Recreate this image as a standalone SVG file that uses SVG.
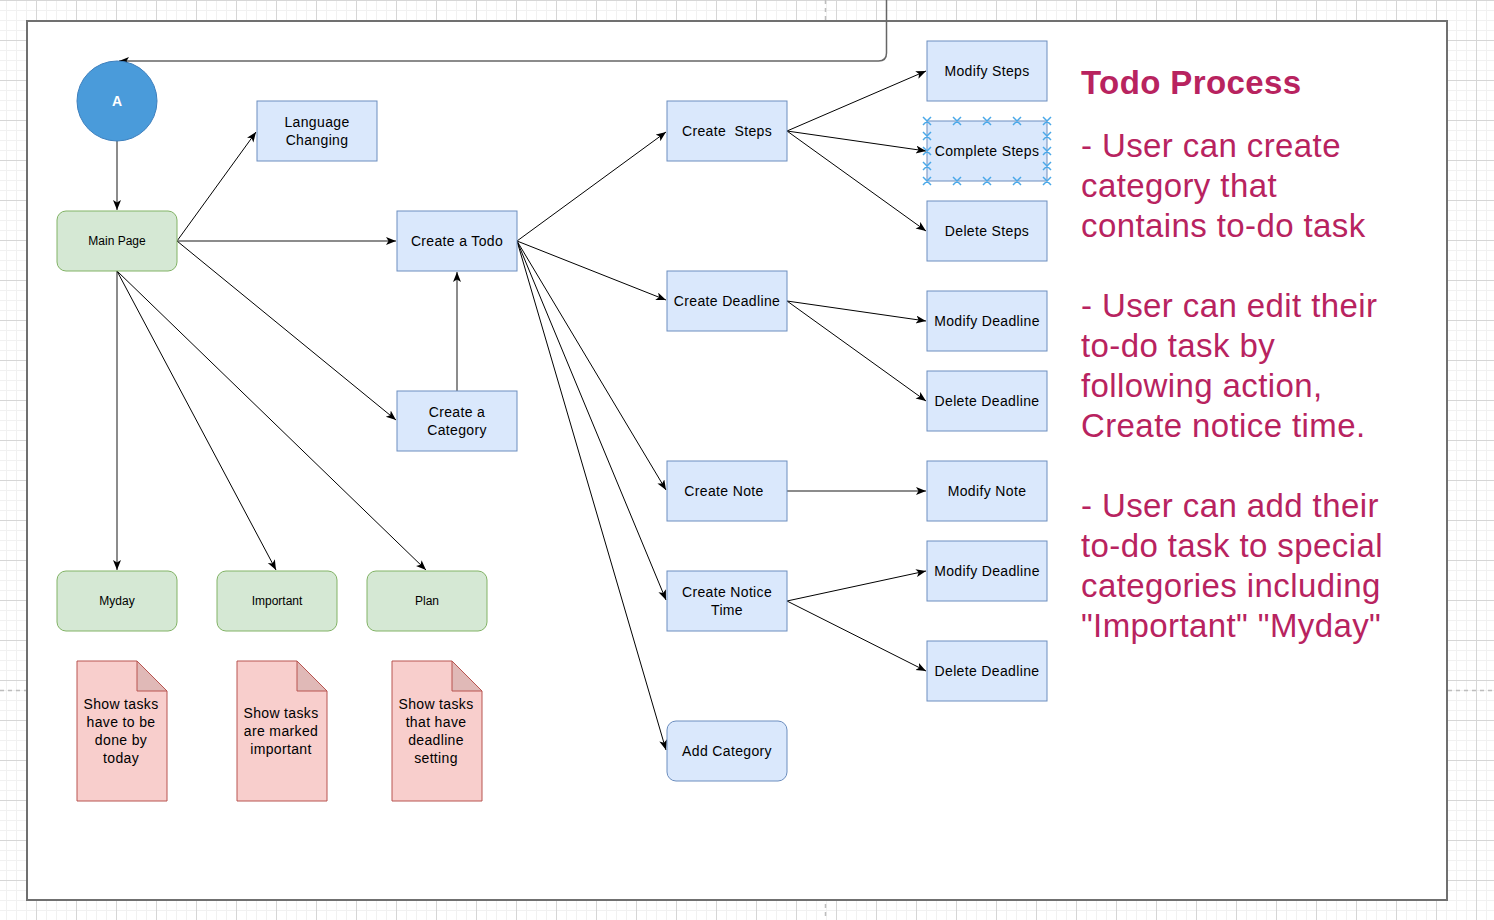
<svg xmlns="http://www.w3.org/2000/svg" width="1494" height="920" viewBox="0 0 1494 920">
<style>
text{font-family:"Liberation Sans",Arial,Helvetica,sans-serif;fill:#000;}
.blue{fill:#dae8fc;stroke:#6c8ebf;stroke-width:1;}
.green{fill:#d5e8d4;stroke:#82b366;stroke-width:1;}
.doc{fill:#f8cecc;stroke:#b85450;stroke-width:1;}
.fold{fill:#e0b9b7;stroke:#b85450;stroke-width:1;}
.t14{font-size:14px;text-anchor:middle;letter-spacing:0.35px;}
.t12{font-size:12px;text-anchor:middle;}
.e{fill:none;stroke:#000;stroke-width:1;marker-end:url(#arr);}
.eg{fill:none;stroke:#666;stroke-width:1.5;marker-end:url(#arr);}
.sel{stroke:#4aa8e8;stroke-width:1.5;fill:none;}
.note{font-size:33px;fill:#b8235f;letter-spacing:0.4px;}
</style>
<defs>
<pattern id="grid" patternUnits="userSpaceOnUse" x="36" y="0" width="40" height="40">
<path d="M10.5 0V40M20.5 0V40M30.5 0V40M0 10.5H40M0 20.5H40M0 30.5H40" stroke="#f1f1f1" stroke-width="1"/>
<path d="M0.5 0V40M0 0.5H40" stroke="#d6d6d6" stroke-width="1"/>
</pattern>
<marker id="arr" markerUnits="userSpaceOnUse" markerWidth="12" markerHeight="10" refX="10" refY="4" orient="auto">
<path d="M0,0 L10,4 L0,8 L2.5,4 Z" fill="#000"/>
</marker>
</defs>
<rect width="1494" height="920" fill="#ffffff"/>
<rect width="1494" height="920" fill="url(#grid)"/>
<g stroke="#bdbdbd" stroke-width="1.5" stroke-dasharray="4,4">
<path d="M825.5 0V920"/>
<path d="M0 690.5H1494"/>
</g>
<rect x="27" y="21" width="1420" height="879" fill="#ffffff" stroke="#707070" stroke-width="2"/>

<g id="connectors">
<path class="eg" d="M886.5 0V53Q886.5 61 878.5 61H119"/>
<path class="eg" d="M117 141V210"/>
<path class="e" d="M177 241L256 132"/>
<path class="eg" d="M177 241H396"/>
<path class="e" d="M177 241L396 420"/>
<path class="eg" d="M117 271V570"/>
<path class="e" d="M117 271L276 570"/>
<path class="e" d="M117 271L426 570"/>
<path class="eg" d="M457 391V272"/>
<path class="e" d="M517 241L666 132"/>
<path class="e" d="M517 241L666 300"/>
<path class="e" d="M517 241L666 490"/>
<path class="e" d="M517 241L666 600"/>
<path class="e" d="M517 241L666 750"/>
<path class="e" d="M787 131L926 71"/>
<path class="e" d="M787 131L926 151"/>
<path class="e" d="M787 131L926 231"/>
<path class="e" d="M787 301L926 321"/>
<path class="e" d="M787 301L926 401"/>
<path class="eg" d="M787 491H926"/>
<path class="e" d="M787 601L926 571"/>
<path class="e" d="M787 601L926 671"/>
</g>

<g id="node-a"><circle cx="117" cy="101" r="40" fill="#4a9bda" stroke="#3d7fbd" stroke-width="1"/><text x="117" y="106" class="t12" style="fill:#fff;font-weight:bold;font-size:14px">A</text></g>
<g id="node-language"><rect class="blue" x="257" y="101" width="120" height="60"/><text class="t14" x="317" y="127">Language</text><text class="t14" x="317" y="145">Changing</text></g>
<g id="node-main"><rect class="green" x="57" y="211" width="120" height="60" rx="9"/><text class="t12" x="117" y="245">Main Page</text></g>
<g id="node-todo"><rect class="blue" x="397" y="211" width="120" height="60"/><text class="t14" x="457" y="246">Create a Todo</text></g>
<g id="node-category"><rect class="blue" x="397" y="391" width="120" height="60"/><text class="t14" x="457" y="417">Create a</text><text class="t14" x="457" y="435">Category</text></g>
<g id="node-myday"><rect class="green" x="57" y="571" width="120" height="60" rx="9"/><text class="t12" x="117" y="605">Myday</text></g>
<g id="node-important"><rect class="green" x="217" y="571" width="120" height="60" rx="9"/><text class="t12" x="277" y="605">Important</text></g>
<g id="node-plan"><rect class="green" x="367" y="571" width="120" height="60" rx="9"/><text class="t12" x="427" y="605">Plan</text></g>

<g id="doc-myday"><path class="doc" d="M77 661H137L167 691V801H77Z"/><path class="fold" d="M137 661V691H167Z"/><text class="t14" x="121" y="709">Show tasks</text><text class="t14" x="121" y="727">have to be</text><text class="t14" x="121" y="745">done by</text><text class="t14" x="121" y="763">today</text></g>
<g id="doc-important"><path class="doc" d="M237 661H297L327 691V801H237Z"/><path class="fold" d="M297 661V691H327Z"/><text class="t14" x="281" y="718">Show tasks</text><text class="t14" x="281" y="736">are marked</text><text class="t14" x="281" y="754">important</text></g>
<g id="doc-plan"><path class="doc" d="M392 661H452L482 691V801H392Z"/><path class="fold" d="M452 661V691H482Z"/><text class="t14" x="436" y="709">Show tasks</text><text class="t14" x="436" y="727">that have</text><text class="t14" x="436" y="745">deadline</text><text class="t14" x="436" y="763">setting</text></g>

<g id="node-create-steps"><rect class="blue" x="667" y="101" width="120" height="60"/><text class="t14" x="727" y="136" style="white-space:pre" xml:space="preserve">Create  Steps</text></g>
<g id="node-modify-steps"><rect class="blue" x="927" y="41" width="120" height="60"/><text class="t14" x="987" y="76">Modify Steps</text></g>
<g id="node-complete-steps"><rect class="blue" x="927" y="121" width="120" height="60"/><text class="t14" x="987" y="156">Complete Steps</text>
<path class="sel" d="M923 117l8 8m0-8l-8 8M953 117l8 8m0-8l-8 8M983 117l8 8m0-8l-8 8M1013 117l8 8m0-8l-8 8M1043 117l8 8m0-8l-8 8M923 177l8 8m0-8l-8 8M953 177l8 8m0-8l-8 8M983 177l8 8m0-8l-8 8M1013 177l8 8m0-8l-8 8M1043 177l8 8m0-8l-8 8M923 132l8 8m0-8l-8 8M923 147l8 8m0-8l-8 8M923 162l8 8m0-8l-8 8M1043 132l8 8m0-8l-8 8M1043 147l8 8m0-8l-8 8M1043 162l8 8m0-8l-8 8"/></g>
<g id="node-delete-steps"><rect class="blue" x="927" y="201" width="120" height="60"/><text class="t14" x="987" y="236">Delete Steps</text></g>
<g id="node-create-deadline"><rect class="blue" x="667" y="271" width="120" height="60"/><text class="t14" x="727" y="306">Create Deadline</text></g>
<g id="node-modify-deadline-1"><rect class="blue" x="927" y="291" width="120" height="60"/><text class="t14" x="987" y="326">Modify Deadline</text></g>
<g id="node-delete-deadline-1"><rect class="blue" x="927" y="371" width="120" height="60"/><text class="t14" x="987" y="406">Delete Deadline</text></g>
<g id="node-create-note"><rect class="blue" x="667" y="461" width="120" height="60"/><text class="t14" x="724" y="496">Create Note</text></g>
<g id="node-modify-note"><rect class="blue" x="927" y="461" width="120" height="60"/><text class="t14" x="987" y="496">Modify Note</text></g>
<g id="node-notice"><rect class="blue" x="667" y="571" width="120" height="60"/><text class="t14" x="727" y="597">Create Notice</text><text class="t14" x="727" y="615">Time</text></g>
<g id="node-modify-deadline-2"><rect class="blue" x="927" y="541" width="120" height="60"/><text class="t14" x="987" y="576">Modify Deadline</text></g>
<g id="node-delete-deadline-2"><rect class="blue" x="927" y="641" width="120" height="60"/><text class="t14" x="987" y="676">Delete Deadline</text></g>
<g id="node-add-category"><rect class="blue" x="667" y="721" width="120" height="60" rx="9"/><text class="t14" x="727" y="756">Add Category</text></g>

<g id="notes">
<text x="1081" y="94" style="font-size:33px;font-weight:bold;fill:#b8235f;letter-spacing:0.4px">Todo Process</text>
<text class="note" x="1081" y="157">- User can create</text>
<text class="note" x="1081" y="197">category that</text>
<text class="note" x="1081" y="237">contains to-do task</text>
<text class="note" x="1081" y="317">- User can edit their</text>
<text class="note" x="1081" y="357">to-do task by</text>
<text class="note" x="1081" y="397">following action,</text>
<text class="note" x="1081" y="437">Create notice time.</text>
<text class="note" x="1081" y="517">- User can add their</text>
<text class="note" x="1081" y="557">to-do task to special</text>
<text class="note" x="1081" y="597">categories including</text>
<text class="note" x="1081" y="637">"Important" "Myday"</text>
</g>
</svg>
